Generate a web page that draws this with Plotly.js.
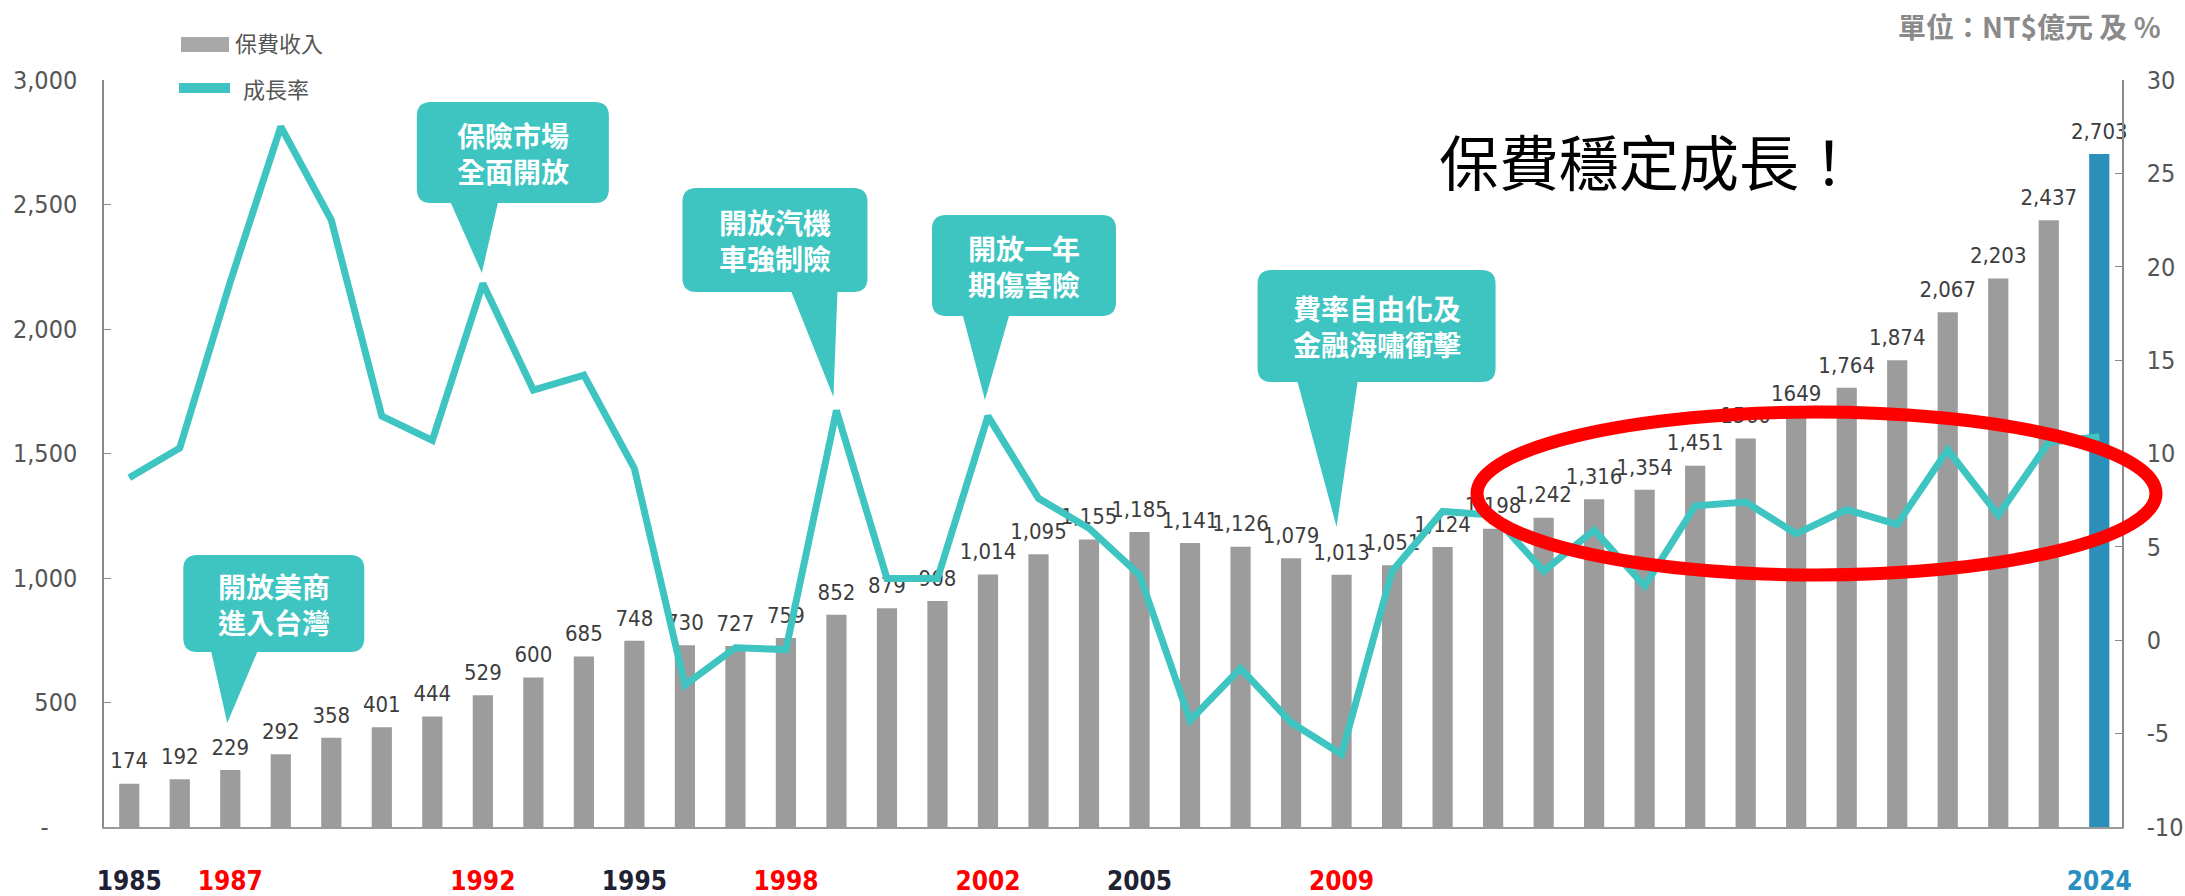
<!DOCTYPE html>
<html><head><meta charset="utf-8">
<script src="https://cdn.plot.ly/plotly-3.0.1.min.js"></script>
<style>html,body{margin:0;padding:0;background:#fff;overflow:hidden}#chart{width:2185px;height:896px}</style>
</head><body><div id="chart"></div>
<script>
// ---------- data ----------
const years = ['1985','1986','1987','1988','1989','1990','1991','1992','1993','1994','1995','1996','1997','1998','1999','2000','2001','2002','2003','2004','2005','2006','2007','2008','2009','2010','2011','2012','2013','2014','2015','2016','2017','2018','2019','2020','2021','2022','2023','2024'];
const premiums = [174,192,229,292,358,401,444,529,600,685,748,730,727,759,852,879,908,1014,1095,1155,1185,1141,1126,1079,1013,1051,1124,1198,1242,1316,1354,1451,1560,1649,1764,1874,2067,2203,2437,2703];
const premiumLabels = ['174','192','229','292','358','401','444','529','600','685','748','730','727','759','852','879','908','1,014','1,095','1,155','1,185','1,141','1,126','1,079','1,013','1,051','1,124','1,198','1,242','1,316','1,354','1,451','1560','1649','1,764','1,874','2,067','2,203','2,437','2,703'];
const growthRates = [8.7,10.3,19.2,27.5,22.5,12.0,10.7,19.1,13.4,14.2,9.2,-2.4,-0.4,-0.5,12.3,3.3,3.3,12.0,7.6,6.0,3.5,-4.3,-1.5,-4.4,-6.1,3.7,6.9,6.7,3.7,5.9,2.9,7.2,7.4,5.7,7.0,6.2,10.2,6.7,10.6,10.9];
const yearTickVals = ['1985','1987','1992','1995','1998','2002','2005','2009','2024'];
const yearTickColors = ['#1f2233','#ff0000','#ff0000','#1f2233','#ff0000','#ff0000','#1f2233','#ff0000','#2a8fc0'];
const leftTickVals = [0,500,1000,1500,2000,2500,3000];
const leftTickText = ['-\u00a0\u00a0\u00a0\u00a0','500','1,000','1,500','2,000','2,500','3,000'];
const rightTickVals = [-10,-5,0,5,10,15,20,25,30];
const rightTickText = ['-10','-5','0','5','10','15','20','25','30'];
const seriesNames = ['保費收入','成長率'];
const unitText = '單位：NT$億元 及 %';
const headline = '保費穩定成長！';
const callouts = [
  {year:'1987', text:'開放美商<br>進入台灣'},
  {year:'1992', text:'保險市場<br>全面開放'},
  {year:'1999', text:'開放汽機<br>車強制險'},
  {year:'2002', text:'開放一年<br>期傷害險'},
  {year:'2009', text:'費率自由化及<br>金融海嘯衝擊'}
];
const highlightYear = '2024';

// ---------- layout geometry (pixels) ----------
const W=2185, H=896, ML=104, MR=63, MT=80, MB=69;
const PW=W-ML-MR, PH=H-MT-MB, BOT=H-MB;
const px = x => (x-ML)/PW;
const py = y => (BOT-y)/PH;
// callout geometry: x relative to the category centre, y from the top of the page
const calloutGeom = {
  '1987': {left:-47, right:134, top:555, bottom:652, baseL:-19, baseR:27, tipDx:-3, tipY:723},
  '1992': {left:-66, right:126, top:102, bottom:203, baseL:-32, baseR:15, tipDx:-1, tipY:273},
  '1999': {left:-154, right:31, top:188, bottom:292, baseL:-45, baseR:1, tipDx:-3, tipY:397},
  '2002': {left:-56, right:128, top:215, bottom:316, baseL:-25, baseR:21, tipDx:-3, tipY:400},
  '2009': {left:-84, right:154, top:270, bottom:382, baseL:-44, baseR:16, tipDx:-5, tipY:527}
};

const TEAL = '#3ec4c1';
const NUMFONT = '"Liberation Sans Narrow", "DejaVu Sans Condensed", "Roboto Condensed", "Liberation Sans", sans-serif';
const CJK = '"Noto Sans CJK TC", "Noto Sans CJK SC", sans-serif';

function calloutPath(cx, g){
  const rx=14/PW, ry=14/PH;
  const X = d => px(cx + d).toFixed(5);
  const Y = v => v.toFixed(5);
  const yt=py(g.top), yb=py(g.bottom), yTip=py(g.tipY);
  const L=px(cx+g.left), R=px(cx+g.right);
  const f = v => v.toFixed(5);
  return `M ${f(L+rx)} ${Y(yt)} L ${f(R-rx)} ${Y(yt)} Q ${f(R)} ${Y(yt)} ${f(R)} ${Y(yt-ry)} `+
         `L ${f(R)} ${Y(yb+ry)} Q ${f(R)} ${Y(yb)} ${f(R-rx)} ${Y(yb)} `+
         `L ${X(g.baseR)} ${Y(yb)} L ${X(g.tipDx)} ${Y(yTip)} L ${X(g.baseL)} ${Y(yb)} `+
         `L ${f(L+rx)} ${Y(yb)} Q ${f(L)} ${Y(yb)} ${f(L)} ${Y(yb+ry)} `+
         `L ${f(L)} ${Y(yt-ry)} Q ${f(L)} ${Y(yt)} ${f(L+rx)} ${Y(yt)} Z`;
}

const barTrace = {
  type:'bar', x:years, y:premiums, name:seriesNames[0],
  marker:{color:years.map(y => y===highlightYear ? '#2b8fba' : '#9c9c9c')},
  hoverinfo:'x+y', showlegend:false
};
const labelTrace = {
  type:'scatter', mode:'markers+text', x:years, y:premiums, text:premiumLabels,
  textposition:'top center', marker:{size:14, opacity:0, color:'#fff'},
  textfont:{family:NUMFONT, size:22, color:'#3d3d3d'}, cliponaxis:false,
  hoverinfo:'skip', showlegend:false
};
const lineTrace = {
  type:'scatter', mode:'lines', x:years, y:growthRates, yaxis:'y2', name:seriesNames[1],
  line:{color:TEAL, width:7}, showlegend:false
};

const baseShapes = [];
const baseAnnotations = [];
// red highlight ellipse
baseShapes.push({type:'circle', xref:'paper', yref:'paper', x0:px(1477), x1:px(2156), y0:py(575), y1:py(412),
  line:{color:'#ff0000', width:13}, fillcolor:'rgba(0,0,0,0)', layer:'above'});
// legend swatches
baseShapes.push({type:'rect', xref:'paper', yref:'paper', x0:px(181), x1:px(229), y0:py(52), y1:py(37),
  fillcolor:'#a8a8a8', line:{width:0}, layer:'above'});
baseShapes.push({type:'line', xref:'paper', yref:'paper', x0:px(179), x1:px(230), y0:py(88), y1:py(88),
  line:{color:TEAL, width:10}, layer:'above'});
baseAnnotations.push({xref:'paper', yref:'paper', x:px(233), y:py(42), xanchor:'left', yanchor:'middle',
  text:seriesNames[0], showarrow:false, font:{family:CJK, size:22, color:'#555'}});
baseAnnotations.push({xref:'paper', yref:'paper', x:px(241), y:py(88), xanchor:'left', yanchor:'middle',
  text:seriesNames[1], showarrow:false, font:{family:CJK, size:22, color:'#555'}});
baseAnnotations.push({xref:'paper', yref:'paper', x:px(2163), y:py(26), xanchor:'right', yanchor:'middle',
  text:unitText, showarrow:false, font:{family:CJK, size:28, color:'#8a8a8a', weight:700}});
baseAnnotations.push({xref:'paper', yref:'paper', x:px(1649), y:py(159), xanchor:'center', yanchor:'middle',
  text:headline, showarrow:false, font:{family:CJK, size:60, color:'#000', weight:400}});

const layout = {
  width:W, height:H, margin:{l:ML, r:MR, t:MT, b:MB, pad:0},
  paper_bgcolor:'#fff', plot_bgcolor:'#fff', bargap:0.6, showlegend:false,
  xaxis:{type:'category', range:[-0.5, 39.45], showgrid:false, zeroline:false,
    showline:true, linecolor:'#9a9a9a', linewidth:1.5, ticks:'',
    tickvals:yearTickVals,
    ticktext:yearTickVals.map((y,i)=>`<span style="color:${yearTickColors[i]}"><b>${y}</b></span>`),
    tickfont:{family:NUMFONT, size:26, color:'#1f2233'}, ticklabelstandoff:30},
  yaxis:{range:[0,3000], showgrid:false, zeroline:false, showline:true, linecolor:'#8a8a8a', linewidth:1.5,
    ticks:'inside', ticklen:7, tickcolor:'#8a8a8a', tickvals:leftTickVals, ticktext:leftTickText,
    tickfont:{family:NUMFONT, size:25, color:'#555'}, ticklabelstandoff:20},
  yaxis2:{overlaying:'y', side:'right', range:[-10,30], showgrid:false, zeroline:false, showline:true,
    linecolor:'#8a8a8a', linewidth:1.5, ticks:'inside', ticklen:7, tickcolor:'#8a8a8a',
    tickvals:rightTickVals, ticktext:rightTickText,
    tickfont:{family:NUMFONT, size:25, color:'#555'}, ticklabelstandoff:18},
  shapes:baseShapes, annotations:baseAnnotations
};

const gd = document.getElementById('chart');
Plotly.newPlot(gd, [barTrace, labelTrace, lineTrace], layout, {displayModeBar:false, responsive:false}).then(() => {
  const xa = gd._fullLayout.xaxis;
  const shapes = [];
  const annotations = [];
  callouts.forEach(c => {
    const g = calloutGeom[c.year];
    const cx = xa._offset + xa.l2p(years.indexOf(c.year)); // category centre in page pixels, from Plotly's scale
    shapes.push({type:'path', xref:'paper', yref:'paper', path:calloutPath(cx, g),
      fillcolor:TEAL, line:{width:0}, layer:'above'});
    annotations.push({xref:'paper', yref:'paper', x:px(cx + (g.left+g.right)/2), y:py((g.top+g.bottom)/2),
      text:c.text, showarrow:false, xanchor:'center', yanchor:'middle',
      font:{family:CJK, size:28, color:'#ffffff', weight:700}});
  });
  return Plotly.relayout(gd, {shapes: shapes.concat(baseShapes), annotations: baseAnnotations.concat(annotations)});
});
</script>
</body></html>
